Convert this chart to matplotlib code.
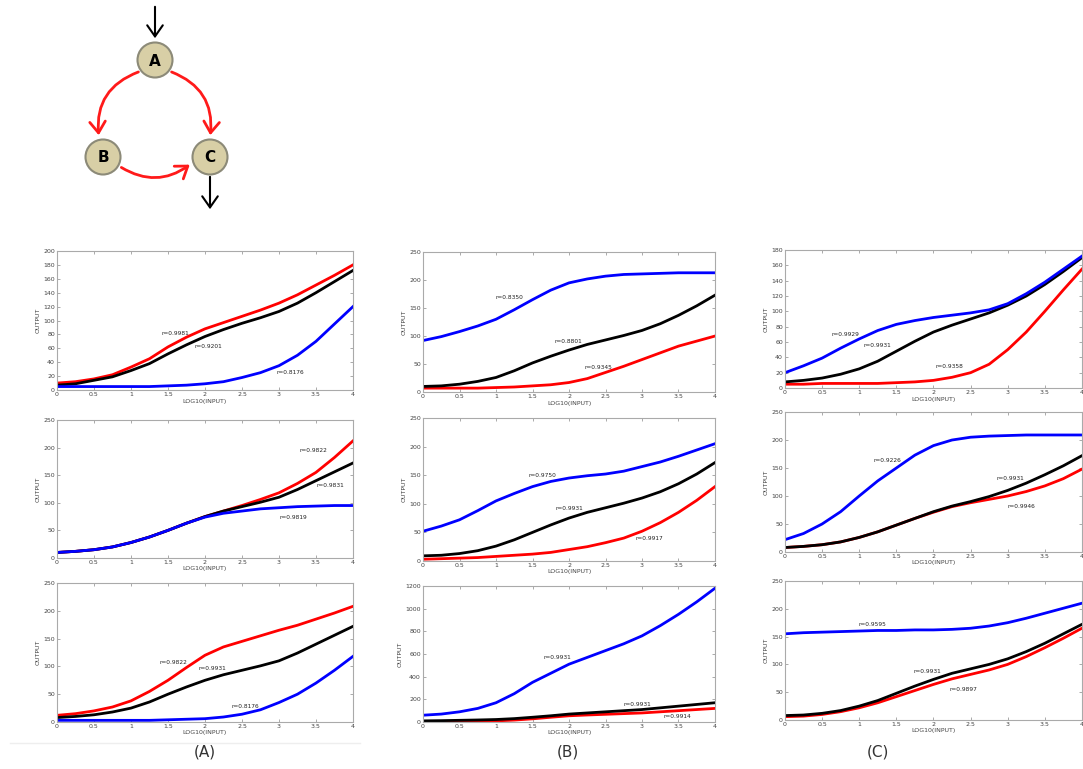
import matplotlib.pyplot as plt
from matplotlib.patches import Circle, FancyArrowPatch

# x grid shared by every panel
x = [0, 0.25, 0.5, 0.75, 1, 1.25, 1.5, 1.75, 2, 2.25, 2.5, 2.75, 3, 3.25, 3.5, 3.75, 4]

# column A
a1_red = [10, 12, 16, 22, 33, 45, 62, 76, 88, 97, 106, 115, 125, 137, 151, 165, 180]
a1_black = [7, 9, 14, 19, 28, 38, 52, 65, 77, 87, 96, 104, 113, 125, 140, 156, 172]
a1_blue = [5, 5, 5, 5, 5, 5, 6, 7, 9, 12, 18, 25, 35, 50, 70, 95, 120]

a2_red = [10, 12, 15, 20, 28, 38, 50, 63, 75, 85, 95, 106, 118, 135, 155, 182, 212]
a2_black = [10, 12, 15, 20, 28, 38, 50, 63, 75, 85, 93, 101, 110, 124, 140, 156, 172]
a2_blue = [10, 12, 15, 20, 28, 38, 50, 63, 74, 81, 85, 89, 91, 93, 94, 95, 95]

a3_red = [12, 15, 20, 27, 38, 55, 75, 98, 120, 135, 145, 155, 165, 174, 185, 196, 208]
a3_black = [8, 10, 13, 18, 25, 36, 50, 63, 75, 85, 93, 101, 110, 124, 140, 156, 172]
a3_blue = [3, 3, 3, 3, 3, 3, 4, 5, 6, 9, 14, 22, 35, 50, 70, 93, 118]

# column B
b1_blue = [92, 99, 108, 118, 130, 147, 165, 182, 195, 202, 207, 210, 211, 212, 213, 213, 213]
b1_black = [10, 11, 14, 19, 26, 38, 52, 64, 75, 85, 93, 101, 110, 122, 137, 154, 173]
b1_red = [7, 7, 7, 7, 8, 9, 11, 13, 17, 24, 35, 46, 58, 70, 82, 91, 100]

b2_blue = [52, 61, 72, 88, 105, 118, 130, 139, 145, 149, 152, 157, 165, 173, 183, 194, 205]
b2_black = [9, 10, 13, 18, 26, 37, 50, 63, 75, 85, 93, 101, 110, 121, 135, 152, 172]
b2_red = [3, 4, 5, 6, 8, 10, 12, 15, 20, 25, 32, 40, 52, 67, 85, 106, 130]

b3_blue = [60, 70, 90, 120, 170, 250, 350, 430, 510, 570, 630, 690, 760, 850, 950, 1060, 1180]
b3_black = [10, 12, 15, 18, 22, 30, 42, 55, 70, 80, 90, 100, 110, 125, 140, 155, 170]
b3_red = [0, 2, 4, 6, 10, 17, 28, 42, 55, 62, 68, 74, 80, 90, 100, 110, 120]

# column C
c1_blue = [20, 29, 39, 52, 64, 75, 83, 88, 92, 95, 98, 102, 110, 123, 138, 155, 172]
c1_black = [8, 10, 13, 18, 25, 35, 48, 61, 73, 82, 90, 98, 108, 120, 135, 152, 170]
c1_red = [5, 5, 6, 6, 6, 6, 7, 8, 10, 14, 20, 31, 50, 73, 100, 128, 155]

c2_blue = [22, 33, 50, 72, 100, 127, 150, 173, 190, 200, 205, 207, 208, 209, 209, 209, 209]
c2_black = [8, 10, 13, 18, 26, 36, 48, 60, 72, 82, 90, 99, 110, 123, 138, 154, 172]
c2_red = [8, 10, 13, 18, 26, 36, 48, 60, 71, 81, 88, 94, 100, 108, 118, 131, 148]

c3_blue = [155, 157, 158, 159, 160, 161, 161, 162, 162, 163, 165, 169, 175, 183, 192, 201, 210]
c3_black = [8, 9, 12, 17, 25, 35, 48, 61, 73, 84, 92, 100, 110, 123, 138, 155, 172]
c3_red = [6, 7, 10, 15, 22, 31, 42, 53, 64, 74, 82, 90, 100, 114, 130, 147, 165]

panels = [
    # rect, ymax, ystep, (red, black, blue), labels
    ([0.0526, 0.4928, 0.2733, 0.1808], 200, 20, (a1_red, a1_black, a1_blue),
     [(1.6, 81, 'r=0.9981'), (2.05, 63, 'r=0.9201'), (3.15, 25, 'r=0.8176')]),
    ([0.0526, 0.2744, 0.2733, 0.1795], 250, 50, (a2_red, a2_black, a2_blue),
     [(3.46, 195, 'r=0.9822'), (3.7, 132, 'r=0.9831'), (3.2, 74, 'r=0.9819')]),
    ([0.0526, 0.0611, 0.2733, 0.1808], 250, 50, (a3_red, a3_black, a3_blue),
     [(1.57, 107, 'r=0.9822'), (2.1, 96, 'r=0.9931'), (2.55, 28, 'r=0.8176')]),
    ([0.3906, 0.4902, 0.2696, 0.1820], 250, 50, (b1_red, b1_black, b1_blue),
     [(1.19, 169, 'r=0.8350'), (1.99, 90, 'r=0.8801'), (2.4, 43, 'r=0.9345')]),
    ([0.3906, 0.2705, 0.2696, 0.1860], 250, 50, (b2_red, b2_black, b2_blue),
     [(1.64, 150, 'r=0.9750'), (2.0, 92, 'r=0.9931'), (3.1, 39, 'r=0.9917')]),
    ([0.3906, 0.0611, 0.2696, 0.1769], 1200, 200, (b3_red, b3_black, b3_blue),
     [(1.84, 573, 'r=0.9931'), (2.93, 158, 'r=0.9931'), (3.48, 45, 'r=0.9914')]),
    ([0.7248, 0.4954, 0.2742, 0.1795], 180, 20, (c1_red, c1_black, c1_blue),
     [(0.81, 70, 'r=0.9929'), (1.24, 56, 'r=0.9931'), (2.22, 28, 'r=0.9358')]),
    ([0.7248, 0.2822, 0.2742, 0.1820], 250, 50, (c2_red, c2_black, c2_blue),
     [(1.38, 164, 'r=0.9226'), (3.04, 131, 'r=0.9931'), (3.18, 81, 'r=0.9946')]),
    ([0.7248, 0.0637, 0.2742, 0.1808], 250, 50, (c3_red, c3_black, c3_blue),
     [(1.18, 171, 'r=0.9595'), (1.92, 87, 'r=0.9931'), (2.4, 55, 'r=0.9897')]),
]

fig = plt.figure(figsize=(10.83, 7.69), dpi=100)

for rect, ymax, ystep, (red, black, blue), labels in panels:
    ax = fig.add_axes(rect)
    ax.plot(x, red, color='#ff0000', lw=2.0)
    ax.plot(x, black, color='black', lw=2.0)
    ax.plot(x, blue, color='#0000ff', lw=2.0)
    ax.set_xlim(0, 4)
    ax.set_ylim(0, ymax)
    ax.set_xticks([0, 0.5, 1, 1.5, 2, 2.5, 3, 3.5, 4])
    ax.set_xticklabels(['0', '0.5', '1', '1.5', '2', '2.5', '3', '3.5', '4'])
    ax.set_yticks(range(0, ymax + 1, ystep))
    ax.tick_params(direction='in', length=2, width=0.5, labelsize=4.5,
                   top=True, right=True, colors='#888888', labelcolor='#444444', pad=1.5)
    for s in ax.spines.values():
        s.set_color('#aaaaaa')
        s.set_linewidth(0.8)
    ax.set_xlabel('LOG10(INPUT)', fontsize=4.5, color='#444444', labelpad=1)
    ax.set_ylabel('OUTPUT', fontsize=4.5, color='#444444', labelpad=2)
    for lx, ly, t in labels:
        ax.text(lx, ly, t, fontsize=4.2, color='#222222', ha='center', va='center')

# overlay in pixel coordinates: network diagram, panel labels
ov = fig.add_axes([0, 0, 1, 1])
ov.set_xlim(0, 1083)
ov.set_ylim(769, 0)
ov.axis('off')
ov.patch.set_alpha(0)

red = '#ff1a1a'
head = '->,head_length=5,head_width=3.5'
arcs = [((141, 71), (99, 138), 0.4), ((169, 71), (210, 138), -0.4), ((119, 166), (192, 163), 0.35)]
for pa, pb, rad in arcs:
    ov.add_patch(FancyArrowPatch(pa, pb, connectionstyle='arc3,rad=%s' % rad,
                                 arrowstyle=head, color=red, lw=2.0, mutation_scale=1.6))
ov.add_patch(FancyArrowPatch((155, 4), (155, 41), arrowstyle=head,
                             color='black', lw=1.5, mutation_scale=1.6))
ov.add_patch(FancyArrowPatch((210, 174), (210, 212), arrowstyle=head,
                             color='black', lw=1.5, mutation_scale=1.6))

for nx, ny, name in [(155, 60, 'A'), (103, 157, 'B'), (210, 157, 'C')]:
    ov.add_patch(Circle((nx, ny), 17.5, facecolor='#d8cfa6', edgecolor='#8c8a78', lw=1.5, zorder=5))
    ov.text(nx, ny + 1, name, fontsize=11, fontweight='bold', ha='center', va='center', zorder=6)

for lx, name in [(205, '(A)'), (568, '(B)'), (878, '(C)')]:
    ov.text(lx, 752, name, fontsize=11, color='#333333', ha='center', va='center')

ov.plot([10, 360], [743, 743], color='#eeeeee', lw=1)

fig.savefig('out.png', dpi=100)
